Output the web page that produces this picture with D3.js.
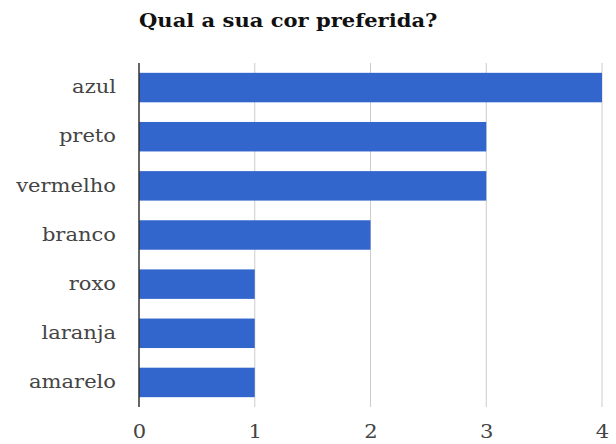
<!DOCTYPE html>
<html>
<head>
<meta charset="utf-8">
<script src="https://cdn.jsdelivr.net/npm/d3@7"></script>
<style>
  body { margin: 0; background: #fff; }
  svg { display: block; font-family: 'DejaVu Serif', serif; }
</style>
</head>
<body>
<svg id="chart"></svg>
<script>
var categories = ['azul', 'preto', 'vermelho', 'branco', 'roxo', 'laranja', 'amarelo'];
var values = [4, 3, 3, 2, 1, 1, 1];
var ticks = [0, 1, 2, 3, 4];
var title = 'Qual a sua cor preferida?';

// the reference text is a little wider than the plain font
var stretch = 1.17;

var render = (selector, size) => {
  var margin = size.margin;
  var width = size.width - margin.left - margin.right;
  var height = size.height - margin.top - margin.bottom;

  var data = categories.map((c, i) => ({ name: c, value: values[i] }));

  var x = d3.scaleLinear()
    .domain([0, 4])
    .range([0, width]);

  var y = d3.scaleBand()
    .domain(categories)
    .range([0, height])
    .paddingInner(0.4)
    .paddingOuter(0.2);

  var svg = d3.select(selector)
    .attr('width', size.width)
    .attr('height', size.height);

  svg.append('text')
    .attr('x', 0)
    .attr('y', 0)
    .attr('transform', `translate(${ margin.left }, 27) scale(${ stretch }, 1)`)
    .attr('font-size', 18)
    .attr('font-weight', 'bold')
    .attr('fill', '#111')
    .text(title);

  var chart = svg.append('g')
    .attr('transform', `translate(${ margin.left }, ${ margin.top })`);

  // gridlines
  chart.append('g')
    .selectAll('line')
    .data(ticks.filter(t => t > 0))
    .enter().append('line')
      .attr('x1', d => x(d))
      .attr('x2', d => x(d))
      .attr('y1', 0)
      .attr('y2', height)
      .attr('stroke', '#cccccc')
      .attr('stroke-width', 1);

  chart.selectAll('.bar')
    .data(data)
    .enter().append('rect')
      .attr('class', 'bar')
      .attr('x', x(0))
      .attr('y', d => y(d.name))
      .attr('width', d => x(d.value) - x(0))
      .attr('height', y.bandwidth())
      .attr('fill', '#3366cc');

  // zero baseline
  chart.append('line')
    .attr('x1', x(0))
    .attr('x2', x(0))
    .attr('y1', 0)
    .attr('y2', height)
    .attr('stroke', '#333333')
    .attr('stroke-width', 1.5);

  var xAxis = d3.axisBottom(x)
    .tickValues(ticks)
    .tickFormat(d3.format('d'))
    .tickSize(0)
    .tickPadding(18);

  var yAxis = d3.axisLeft(y)
    .tickSize(0);

  var gx = chart.append('g')
    .attr('class', 'axis x')
    .attr('transform', `translate(0, ${ height })`)
    .call(xAxis);

  var gy = chart.append('g')
    .attr('class', 'axis y')
    .call(yAxis);

  [gx, gy].forEach(g => {
    g.select('.domain').remove();
    g.selectAll('text')
      .attr('font-family', 'DejaVu Serif, serif')
      .attr('font-size', 18)
      .attr('fill', '#444')
      .attr('transform', `scale(${ stretch }, 1)`);
  });

  gy.selectAll('text').attr('x', -23 / stretch);
};

render('#chart', {
  width: 616,
  height: 444,
  margin: { top: 63, right: 14, bottom: 37, left: 139 }
});
</script>
</body>
</html>
